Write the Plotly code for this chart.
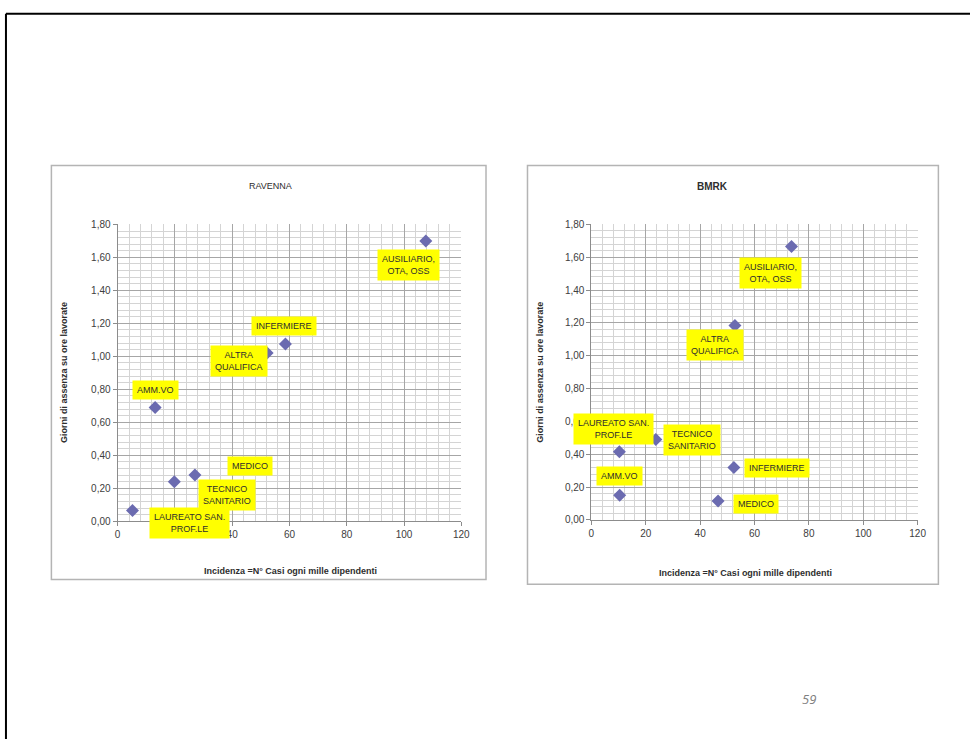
import plotly.graph_objects as go

# -------- data --------

RAV_LABELS = [
    "AUSILIARIO,<br>OTA, OSS",
    "INFERMIERE",
    "ALTRA<br>QUALIFICA",
    "AMM.VO",
    "MEDICO",
    "TECNICO<br>SANITARIO",
    "LAUREATO SAN.<br>PROF.LE",
]
RAV_X = [107.6, 58.6, 52.2, 13.1, 27.0, 19.8, 5.2]
RAV_Y = [1.70, 1.075, 1.02, 0.69, 0.28, 0.24, 0.065]

BMRK_LABELS = [
    "AUSILIARIO,<br>OTA, OSS",
    "ALTRA<br>QUALIFICA",
    "LAUREATO SAN.<br>PROF.LE",
    "TECNICO<br>SANITARIO",
    "AMM.VO",
    "INFERMIERE",
    "MEDICO",
]
BMRK_X = [73.6, 52.8, 10.3, 23.7, 10.4, 52.4, 46.6]
BMRK_Y = [1.665, 1.185, 0.415, 0.49, 0.15, 0.32, 0.115]

X_TITLE = "Incidenza =N° Casi ogni mille dipendenti"
Y_TITLE = "Giorni di assenza su ore lavorate"

# label box offsets from their point, in pixels (dx right, dy down)
RAV_OFFSETS = [(-17, 24), (-1, -18), (-28, 8), (0, -17), (55, -9), (53, 13), (57, 12)]
BMRK_OFFSETS = [(-21, 26), (-20, 20), (-6, -23), (36, 0), (0, -19), (43, 1), (38, 3)]

W, H = 979, 745
FONT = "Liberation Sans, Arial, sans-serif"
TXT = "#2e2e2e"
MARKER = "#6b6bb0"
GRID_MAJOR = "#a6a6a6"
GRID_MINOR = "#d4d4d4"


def px(x):
    return x / W


def py(y):
    return 1 - y / H


fig = go.Figure()

panels = [
    ("", RAV_X, RAV_Y, RAV_LABELS, RAV_OFFSETS, (116, 464), (222.7, 524)),
    ("2", BMRK_X, BMRK_Y, BMRK_LABELS, BMRK_OFFSETS, (595.7, 926), (222.7, 522.7)),
]

for sfx, xs, ys, labels, offs, (x0, x1), (y0, y1) in panels:
    fig.add_trace(
        go.Scatter(
            x=xs,
            y=ys,
            mode="markers",
            marker=dict(symbol="diamond", size=10, color=MARKER, line=dict(width=0)),
            xaxis="x" + sfx,
            yaxis="y" + sfx,
            hoverinfo="skip",
            showlegend=False,
        )
    )
    axis_common = dict(
        showgrid=True,
        gridcolor=GRID_MAJOR,
        gridwidth=1,
        zeroline=False,
        showline=True,
        linecolor="#8c8c8c",
        linewidth=1,
        ticks="outside",
        ticklen=4,
        tickcolor="#8c8c8c",
        tickfont=dict(family=FONT, size=10, color="#404040"),
        fixedrange=True,
    )
    fig.layout["xaxis" + sfx] = dict(
        axis_common,
        domain=[px(x0), px(x1)],
        range=[0, 120],
        tick0=0,
        dtick=20,
        minor=dict(dtick=4, showgrid=True, gridcolor=GRID_MINOR, gridwidth=1),
        anchor="y" + sfx,
    )
    fig.layout["yaxis" + sfx] = dict(
        axis_common,
        domain=[py(y1), py(y0)],
        range=[0, 1.8],
        tick0=0,
        dtick=0.2,
        tickformat=".2f",
        minor=dict(dtick=0.04, showgrid=True, gridcolor=GRID_MINOR, gridwidth=1),
        anchor="x" + sfx,
    )
    # yellow data labels
    for xv, yv, lab, (dx, dy) in zip(xs, ys, labels, offs):
        fig.add_annotation(
            x=xv,
            y=yv,
            xref="x" + sfx,
            yref="y" + sfx,
            text=lab,
            showarrow=False,
            xshift=dx,
            yshift=-dy,
            bgcolor="#ffff00",
            borderpad=4,
            align="center",
            font=dict(family=FONT, size=9, color=TXT),
        )

# chart frames
for (bx0, by0, bx1, by1) in [(49, 163, 489, 583), (531, 163, 947, 588)]:
    fig.add_shape(
        type="rect",
        xref="paper",
        yref="paper",
        x0=px(bx0),
        x1=px(bx1),
        y0=py(by1),
        y1=py(by0),
        line=dict(color="#b4b4b4", width=1.5),
        layer="below",
    )

# slide border (top and left)
fig.add_shape(type="line", xref="paper", yref="paper", x0=px(3), x1=1, y0=py(9), y1=py(9),
              line=dict(color="black", width=2))
fig.add_shape(type="line", xref="paper", yref="paper", x0=px(3), x1=px(3), y0=py(9), y1=0,
              line=dict(color="black", width=2))

# titles and axis titles as free text
texts = [
    ("RAVENNA", 270.7, 184, 0, False, 9),
    ("BMRK", 718.7, 184, 0, True, 10),
    (X_TITLE, 291, 574, 0, True, 9),
    (X_TITLE, 751.7, 576.7, 0, True, 9),
    (Y_TITLE, 62.3, 373, -90, True, 9),
    (Y_TITLE, 544, 373, -90, True, 9),
]
for t, tx, ty, rot, bold, size in texts:
    fig.add_annotation(
        x=px(tx),
        y=py(ty),
        xref="paper",
        yref="paper",
        text=f"<b>{t}</b>" if bold else t,
        showarrow=False,
        textangle=rot,
        xanchor="center",
        yanchor="middle",
        font=dict(family=FONT, size=size, color=TXT),
    )

# page number
fig.add_annotation(
    x=px(825.5),
    y=py(716),
    xref="paper",
    yref="paper",
    text="<i>59</i>",
    showarrow=False,
    font=dict(family="Open Sans, sans-serif", size=13, color="#808080"),
)

fig.update_layout(
    width=W,
    height=H,
    autosize=False,
    margin=dict(l=0, r=0, t=0, b=0),
    paper_bgcolor="white",
    plot_bgcolor="white",
    separators=",.",
    showlegend=False,
)

# drop the default body margin so the figure sits at the window's corner
fig.write_html(
    "out.html",
    config={"displayModeBar": False},
    post_script="document.body.style.margin='0';document.body.style.overflow='hidden';",
)
